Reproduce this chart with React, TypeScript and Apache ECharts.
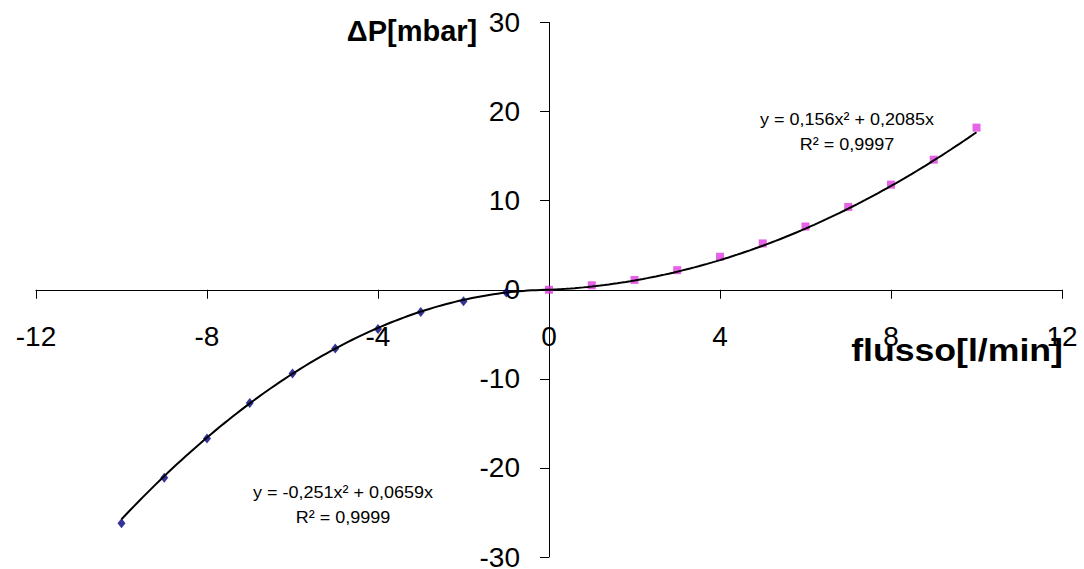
import React, { useEffect, useRef } from "react";
import * as echarts from "echarts";

// Measured points, negative flow (reverse direction)
const negFlow = [-10, -9, -8, -7, -6, -5, -4, -3, -2, -1];
const negDp = [-26.2, -21.1, -16.7, -12.7, -9.4, -6.6, -4.4, -2.5, -1.3, -0.3];

// Measured points, positive flow
const posFlow = [0, 1, 2, 3, 4, 5, 6, 7, 8, 9, 10];
const posDp = [0, 0.5, 1.1, 2.2, 3.7, 5.2, 7.1, 9.3, 11.8, 14.6, 18.2];

// Quadratic trendlines y = a·x² + b·x, as stated in the equation labels
const negFitCoef = [-0.251, 0.0659];
const posFitCoef = [0.156, 0.2085];
const negFitRange = [-10, 0];
const posFitRange = [0, 10];
const negFitLabel = ["y = -0,251x² + 0,0659x", "R² = 0,9999"];
const posFitLabel = ["y = 0,156x² + 0,2085x", "R² = 0,9997"];

// Axis extents: [min, max, step]
const xAxisRange = [-12, 12, 4];
const yAxisRange = [-30, 30, 10];

const FONT = "Arial, 'Liberation Sans', sans-serif";

const WIDTH = 1084;
const HEIGHT = 569;
const GRID = { left: 36, right: 22, top: 22.5, bottom: 12 };

function trendPoints(coef: number[], range: number[]) {
  const pts: number[][] = [];
  const n = 100;
  for (let i = 0; i <= n; i++) {
    const x = range[0] + ((range[1] - range[0]) * i) / n;
    pts.push([x, coef[0] * x * x + coef[1] * x]);
  }
  return pts;
}

function equationText(label: string[], x: number, y: number) {
  return {
    type: "text",
    x,
    y,
    scaleX: 1.06,
    style: {
      text: label.join("\n"),
      align: "center",
      verticalAlign: "middle",
      fontFamily: FONT,
      fontSize: 17,
      lineHeight: 25,
      fill: "#000",
    },
  };
}

export default function App() {
  const ref = useRef<HTMLDivElement>(null);

  useEffect(() => {
    if (!ref.current) return;
    const chart = echarts.init(ref.current, undefined, { renderer: "svg" });

    // Axes cross at the origin: shift each axis (line, ticks and labels) inward
    const gridW = WIDTH - GRID.left - GRID.right;
    const gridH = HEIGHT - GRID.top - GRID.bottom;
    const yAxisShift =
      (gridW * (0 - xAxisRange[0])) / (xAxisRange[1] - xAxisRange[0]);
    const xAxisShift =
      (gridH * (0 - yAxisRange[0])) / (yAxisRange[1] - yAxisRange[0]);

    const axisLine = { show: true, onZero: false, lineStyle: { color: "#000", width: 1 } };
    const axisTick = { show: true, inside: false, length: 9, lineStyle: { color: "#000", width: 1 } };
    const axisLabel = { color: "#000", fontFamily: FONT, fontSize: 28 };

    chart.setOption({
      animation: false,
      backgroundColor: "#fff",
      grid: {
        ...GRID,
        containLabel: false,
        outerBoundsMode: "none",
      },
      xAxis: {
        type: "value",
        position: "bottom",
        offset: -xAxisShift,
        min: xAxisRange[0],
        max: xAxisRange[1],
        interval: xAxisRange[2],
        axisLine,
        axisTick,
        axisLabel: { ...axisLabel, margin: 33 },
        splitLine: { show: false },
      },
      yAxis: {
        type: "value",
        position: "left",
        offset: -yAxisShift,
        min: yAxisRange[0],
        max: yAxisRange[1],
        interval: yAxisRange[2],
        axisLine,
        axisTick,
        axisLabel: { ...axisLabel, margin: 29, lineHeight: 22 },
        splitLine: { show: false },
      },
      series: [
        {
          name: "neg",
          type: "scatter",
          data: negFlow.map((x, i) => [x, negDp[i]]),
          symbol: "diamond",
          symbolSize: [8, 10],
          itemStyle: { color: "#000080" },
          z: 2,
        },
        {
          name: "pos",
          type: "scatter",
          data: posFlow.map((x, i) => [x, posDp[i]]),
          symbol: "rect",
          symbolSize: 8,
          itemStyle: { color: "#e03ce0" },
          z: 2,
        },
        {
          name: "negFit",
          type: "line",
          data: trendPoints(negFitCoef, negFitRange),
          showSymbol: false,
          symbol: "none",
          lineStyle: { color: "#000", width: 2 },
          z: 3,
        },
        {
          name: "posFit",
          type: "line",
          data: trendPoints(posFitCoef, posFitRange),
          showSymbol: false,
          symbol: "none",
          lineStyle: { color: "#000", width: 2 },
          z: 3,
        },
      ],
      graphic: [
        {
          type: "text",
          x: 412,
          y: 31,
          style: {
            text: "ΔP[mbar]",
            align: "center",
            verticalAlign: "middle",
            fontFamily: FONT,
            fontSize: 29,
            fontWeight: "bold",
            fill: "#000",
          },
        },
        {
          type: "text",
          x: 1063,
          y: 350,
          scaleX: 1.15,
          style: {
            text: "flusso[l/min]",
            align: "right",
            verticalAlign: "middle",
            fontFamily: FONT,
            fontSize: 31,
            fontWeight: "bold",
            fill: "#000",
          },
        },
        equationText(posFitLabel, 847, 132),
        equationText(negFitLabel, 343, 505),
      ],
    });

    return () => chart.dispose();
  }, []);

  return (
    <div
      ref={ref}
      style={{ position: "fixed", left: 0, top: 0, width: WIDTH, height: HEIGHT }}
    />
  );
}
